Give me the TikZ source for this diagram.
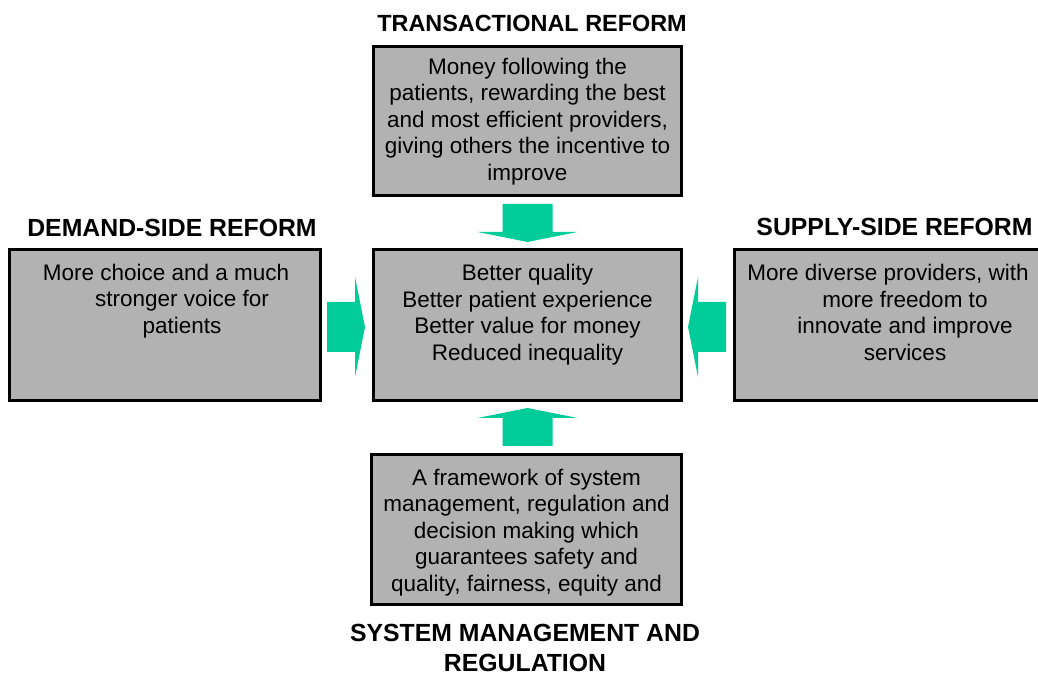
\documentclass[tikz,border=0pt]{standalone}
\usepackage{fontspec}
\setmainfont{Liberation Sans}
\usetikzlibrary{positioning,calc}

\definecolor{boxgray}{RGB}{178,178,178}
\definecolor{arrowgreen}{RGB}{0,204,153}

\tikzset{
  reformbox/.style={draw=black,fill=boxgray,line width=3pt,inner sep=0pt},
  reformtext/.style={anchor=north,align=center,inner sep=0pt,font=\fontsize{22.5}{26.4}\selectfont},
  reformtitle/.style={align=center,inner sep=0pt,font=\fontsize{24.8}{30}\selectfont\bfseries}
}

\begin{document}
\begin{tikzpicture}[x=1pt,y=1pt]
    % size of the picture
      \def\picw{1038}
      \def\pich{677}
    % size of the block arrows
      \def\arrlen{38}
      \def\headlen{10}
      \def\headhalf{50}
      \def\shafthalf{25}

      \newcommand{\blockarrow}[2]{%
        \fill[arrowgreen,shift={(#1)},rotate=#2] (0,0) -- (-\headlen,\headhalf)
          -- (-\headlen,\shafthalf) -- (-\arrlen,\shafthalf) -- (-\arrlen,-\shafthalf)
          -- (-\headlen,-\shafthalf) -- (-\headlen,-\headhalf) -- cycle;
      }

      \path[use as bounding box,clip] (0,0) rectangle (\picw,\pich);

    % Draw the boxes
      \node[reformbox,minimum width=308pt,minimum height=149pt] (trans) at (527.5,556) {};
      \node[reformbox,minimum width=308pt,minimum height=151pt] (mid) at (527.5,352) {};
      \node[reformbox,minimum width=311pt,minimum height=151pt] (demand) at (165,352) {};
      \node[reformbox,minimum width=311pt,minimum height=151pt] (supply) at (890,352) {};
      \node[reformbox,minimum width=310pt,minimum height=150pt] (system) at (526.5,147.5) {};

    % Draw the box texts
      \node[reformtext] (transtxt) at (527.5,619) {Money following the\\
        patients, rewarding the best\\ and most efficient providers,\\
        giving others the incentive to\\ improve};
      \node[reformtext] (midtxt) at (527.5,412.5) {Better quality\\ Better patient experience\\
        Better value for money\\ Reduced inequality};
      \node[reformtext] (demandtxt) at (182,413) {More choice and a much\hspace*{32pt}\\
        stronger voice for\\ patients};
      \node[reformtext] (supplytxt) at (905,412.5) {More diverse providers, with\hspace*{34pt}\\
        more freedom to\\ innovate and improve\\ services};
      \node[reformtext] (systemtxt) at (526.5,208) {A framework of system\\
        management, regulation and\\ decision making which\\
        guarantees safety and\\ quality, fairness, equity and};

    % Draw the titles
      \node[reformtitle,anchor=base,font=\fontsize{23.4}{28}\selectfont\bfseries] (transttl) at (532,645.3) {TRANSACTIONAL REFORM};
      \node[reformtitle,anchor=base] (demandttl) at (172,440.3) {DEMAND-SIDE REFORM};
      \node[reformtitle,anchor=base] (supplyttl) at (894.5,441) {SUPPLY-SIDE REFORM};
      \node[reformtitle,anchor=north] (systemttl) at (525,53.5) {SYSTEM MANAGEMENT AND\\ REGULATION};

    % Draw the block arrows into the middle box
      \blockarrow{$(mid.north)+(0,6)$}{-90}
      \blockarrow{$(mid.south)+(0,-6)$}{90}
      \blockarrow{$(mid.west)+(-7,-2)$}{0}
      \blockarrow{$(mid.east)+(5,-2)$}{180}

    \end{tikzpicture}
\end{document}
